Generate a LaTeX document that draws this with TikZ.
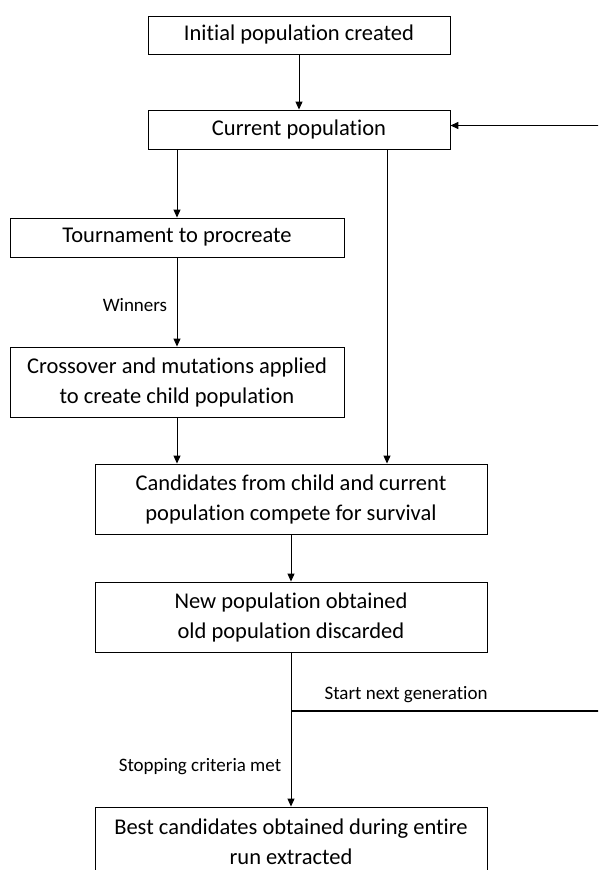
\documentclass[tikz,border=0pt]{standalone}
\usepackage{fontspec}
\setmainfont[Ligatures=NoCommon]{Carlito}
\usepackage{tikz}
\usetikzlibrary{arrows.meta, positioning, calc}

\begin{document}
\begin{tikzpicture}[
      x=1pt, y=-1pt,
      box/.style={draw, line width=0.9pt, align=center, inner sep=0pt,
        font=\fontsize{22.5}{30}\selectfont},
      flow/.style={-{Triangle[length=8pt, width=7pt]}, line width=1pt},
      loopline/.style={-{Triangle[length=8pt, width=7pt]}, line width=1.4pt},
      lbl/.style={font=\fontsize{19}{21}\selectfont},
    ]
    \useasboundingbox (0,0) rectangle (598,870);
    \clip (0,0) rectangle (598,870);
    \node[box, minimum width=302pt, minimum height=38pt] (init) at (299,35) {Initial population created};
    \node[box, minimum width=302pt, minimum height=39pt] (cur) at (299,129.5) {Current population};
    \node[box, minimum width=334pt, minimum height=39pt] (tourn) at (177,237.5) {Tournament to procreate};
    \node[box, minimum width=334pt, minimum height=70pt] (cross) at (177,382) {Crossover and mutations applied\\to create child population};
    \node[box, minimum width=392pt, minimum height=70pt] (cand) at (291,499) {Candidates from child and current\\population compete for survival};
    \node[box, minimum width=392pt, minimum height=70pt] (newpop) at (291,617) {New population obtained\\old population discarded};
    \node[box, minimum width=392pt, minimum height=70pt] (best) at (291,842) {Best candidates obtained during entire\\run extracted};
    \coordinate (junc) at (newpop.south |- 0,711);
    \coordinate (rim) at (602,711);
    \draw[flow] (init) -- (cur);
    \draw[flow] (tourn.north |- cur.south) -- (tourn.north);
    \draw[flow] ([xshift=88pt]cur.south) -- ([xshift=88pt]cur.south |- cand.north);
    \draw[flow] (tourn) -- node[lbl, left=6pt, pos=0.53]{Winners} (cross);
    \draw[flow] (cross.south) -- (cross.south |- cand.north);
    \draw[flow] (cand) -- (newpop);
    \draw[flow] (newpop) -- node[lbl, left=6pt, pos=0.74]{Stopping criteria met} (best);
    \draw[loopline] (junc) -- node[lbl, above=4pt, pos=0.37]{Start next generation} (rim) |- ([yshift=4pt]cur.east);
  \end{tikzpicture}
\end{document}
